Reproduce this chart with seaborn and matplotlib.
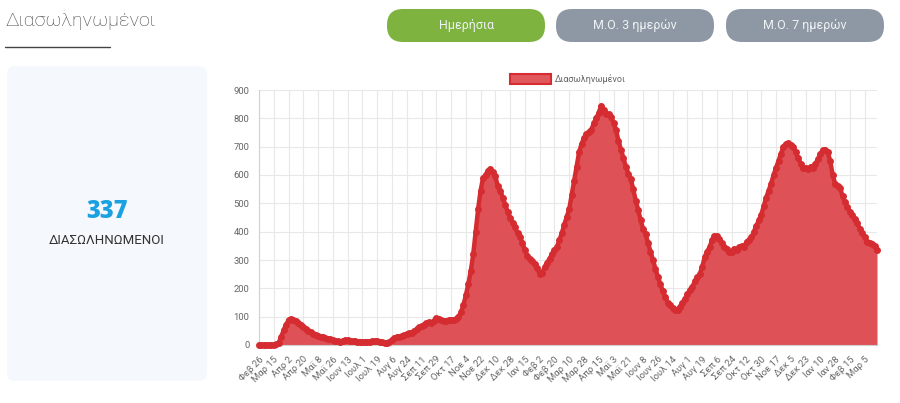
import matplotlib.pyplot as plt
from matplotlib.patches import FancyBboxPatch, Patch
import seaborn as sns
import pandas as pd


# daily series, one value every 3 days from 26 Feb 2020
start_date = '2020-02-26'
step_days = 3
intubated = [
    0, 0, 0, 0, 0, 0, 1, 3, 8, 28,
    52, 72, 88, 93, 90, 84, 78, 72, 64, 56,
    50, 45, 40, 37, 33, 30, 28, 25, 22, 20,
    17, 15, 14, 12, 15, 18, 16, 14, 13, 14,
    12, 11, 11, 12, 10, 12, 14, 13, 14, 11,
    10, 8, 7, 12, 18, 24, 28, 30, 33, 36,
    38, 41, 44, 48, 55, 62, 68, 72, 76, 80,
    78, 85, 95, 92, 88, 85, 86, 88, 87, 90,
    92, 100, 115, 140, 175, 215, 260, 320, 400, 480,
    545, 590, 600, 615, 622, 610, 595, 560, 545, 520,
    495, 470, 450, 430, 415, 395, 381, 360, 335, 315,
    305, 295, 285, 272, 250, 255, 275, 290, 305, 320,
    335, 346, 370, 395, 425, 452, 480, 530, 580, 630,
    680, 710, 730, 745, 752, 760, 783, 800, 820, 845,
    830, 815, 815, 805, 785, 759, 720, 690, 660, 630,
    605, 585, 550, 510, 477, 440, 410, 392, 360, 330,
    300, 270, 240, 215, 190, 170, 150, 140, 130, 125,
    124, 135, 150, 162, 180, 194, 205, 225, 240, 250,
    275, 310, 330, 345, 370, 385, 385, 375, 360, 345,
    340, 330, 330, 340, 335, 345, 350, 345, 365, 370,
    380, 400, 420, 440, 460, 490, 520, 545, 570, 600,
    625, 650, 675, 700, 710, 712, 705, 700, 680, 660,
    640, 625, 625, 620, 630, 625, 640, 655, 675, 688,
    690, 680, 650, 600, 570, 560, 555, 525, 505, 487,
    470, 459, 445, 430, 410, 395, 380, 364, 360, 358,
    350, 337,
]

tick_step_days = 18
tick_labels = [
    'Φεβ 26', 'Μαρ 15', 'Απρ 2', 'Απρ 20', 'Μαϊ 8', 'Μαϊ 26', 'Ιουν 13',
    'Ιουλ 1', 'Ιουλ 19', 'Αυγ 6', 'Αυγ 24', 'Σεπ 11', 'Σεπ 29', 'Οκτ 17',
    'Νοε 4', 'Νοε 22', 'Δεκ 10', 'Δεκ 28', 'Ιαν 15', 'Φεβ 2', 'Φεβ 20',
    'Μαρ 10', 'Μαρ 28', 'Απρ 15', 'Μαϊ 3', 'Μαϊ 21', 'Ιουν 8', 'Ιουν 26',
    'Ιουλ 14', 'Αυγ 1', 'Αυγ 19', 'Σεπ 6', 'Σεπ 24', 'Οκτ 12', 'Οκτ 30',
    'Νοε 17', 'Δεκ 5', 'Δεκ 23', 'Ιαν 10', 'Ιαν 28', 'Φεβ 15', 'Μαρ 5',
]

title = 'Διασωληνωμένοι'
buttons = ['Ημερήσια', 'Μ.Ο. 3 ημερών', 'Μ.Ο. 7 ημερών']
latest_value = 337
latest_label = 'ΔΙΑΣΩΛΗΝΩΜΕΝΟΙ'

line_color = '#d42c30'
fill_color = '#de5257'

sns.set_style('whitegrid')
plt.rcParams['font.family'] = ['Roboto', 'DejaVu Sans']

df = pd.DataFrame({
    'date': pd.date_range(start_date, periods=len(intubated), freq=f'{step_days}D'),
    'value': intubated,
})

fig = plt.figure(figsize=(9, 4.03), dpi=100)

# page elements drawn in pixel coordinates
bg = fig.add_axes([0, 0, 1, 1])
bg.set_xlim(0, 900)
bg.set_ylim(403, 0)
bg.axis('off')

bg.text(5, 21, title, fontsize=14, fontweight='light', color='#444444',
        ha='left', va='center')
bg.plot([5, 110], [47, 47], color='#444444', lw=1.0)

btn_colors = ['#7db33e', '#8e98a4', '#8e98a4']
btn_x = [387, 556, 726]
for label, x0, c in zip(buttons, btn_x, btn_colors):
    bg.add_patch(FancyBboxPatch((x0, 9), 158, 33,
                                boxstyle='round,pad=0,rounding_size=16',
                                fc=c, ec='none'))
    bg.text(x0 + 79, 25.5, label, color='#eef2f4', fontsize=9,
            ha='center', va='center')

bg.add_patch(FancyBboxPatch((7, 66), 200, 315,
                            boxstyle='round,pad=0,rounding_size=8',
                            fc='#f5f8fc', ec='none'))
bg.text(107, 211, str(latest_value), fontsize=17, fontweight=800,
        family=['Open Sans', 'DejaVu Sans'], color='#1ba1e2',
        ha='center', va='center')
bg.text(107, 240, latest_label, fontsize=9.5, color='#333333',
        ha='center', va='center')

# chart
ax = fig.add_axes([259 / 900, 1 - 345 / 403, 618 / 900, 255 / 403])
ax.fill_between(df['date'], df['value'], color=fill_color, lw=0, zorder=2)
sns.lineplot(data=df, x='date', y='value', ax=ax, color=line_color, lw=3.2,
             marker='o', markersize=5, markeredgewidth=0, zorder=3,
             clip_on=False)

ax.set_xlim(df['date'].iloc[0], df['date'].iloc[-1])
ax.set_ylim(0, 900)
ax.set_yticks(range(0, 901, 100))
ticks = pd.date_range(start_date, periods=len(tick_labels), freq=f'{tick_step_days}D')
ax.set_xticks(ticks)
ax.set_xticklabels(tick_labels, rotation=45, ha='right', rotation_mode='anchor',
                   fontsize=6.8, color='#666666')
ax.tick_params(axis='y', labelsize=6.8, labelcolor='#666666', length=4,
               color='#e0e0e0', pad=3)
ax.tick_params(axis='x', length=4, color='#e0e0e0', pad=3)
ax.grid(color='#e8e8e8', lw=0.8)
ax.set_xlabel('')
ax.set_ylabel('')
for s in ['top', 'right']:
    ax.spines[s].set_visible(False)
ax.spines['left'].set_color('#d0d0d0')
ax.spines['bottom'].set_color('#d0d0d0')

handle = Patch(facecolor='#e0575c', edgecolor=line_color, lw=1.5, label=title)
leg = ax.legend(handles=[handle], loc='lower center', bbox_to_anchor=(0.5, 1.0),
                frameon=False, fontsize=6.5, handlelength=4.5, handleheight=1.3,
                handletextpad=0.5, borderaxespad=0.3)
for t in leg.get_texts():
    t.set_color('#666666')

fig.savefig('out.png', dpi=100)
